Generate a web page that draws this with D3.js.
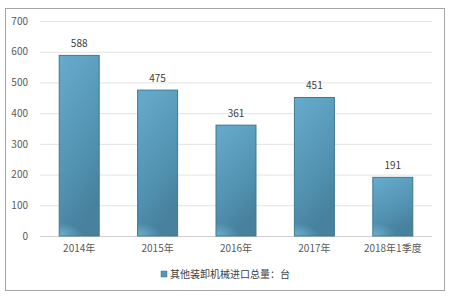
<!DOCTYPE html>
<html>
<head>
<meta charset="utf-8">
<script src="https://cdn.jsdelivr.net/npm/d3@7"></script>
<style>
  body { margin: 0; background: #fff; }
  text { font-family: "Microsoft YaHei", "Noto Sans CJK SC", "DejaVu Sans", sans-serif; }
</style>
</head>
<body>
<figure id="chart" style="margin:0"></figure>
<script>
const categories = ['2014年', '2015年', '2016年', '2017年', '2018年1季度'];
const values = [588, 475, 361, 451, 191];
const yTicks = [0, 100, 200, 300, 400, 500, 600, 700];
const seriesName = '其他装卸机械进口总量：台';

const width = 453;
const height = 297;
const plot = { left: 40, right: 432, top: 21, bottom: 236 };

const svg = d3.select('figure#chart')
  .append('svg')
  .attr('width', width)
  .attr('height', height);

// bar gradient
const defs = svg.append('defs');
const grad = defs.append('linearGradient')
  .attr('id', 'barGrad')
  .attr('x1', 0).attr('y1', 0).attr('x2', 0.35).attr('y2', 1);
grad.append('stop').attr('offset', '0%').attr('stop-color', '#67abcc');
grad.append('stop').attr('offset', '70%').attr('stop-color', '#5191b0');
grad.append('stop').attr('offset', '100%').attr('stop-color', '#47819d');
// small light patch in the bottom-left corner
const glow = defs.append('radialGradient')
  .attr('id', 'barGlow')
  .attr('cx', 0).attr('cy', 1).attr('r', 0.6);
glow.append('stop').attr('offset', '0%').attr('stop-color', '#7cc0e0').attr('stop-opacity', 0.7);
glow.append('stop').attr('offset', '100%').attr('stop-color', '#7cc0e0').attr('stop-opacity', 0);

// outer frame
svg.append('rect')
  .attr('x', 5.5).attr('y', 8.5)
  .attr('width', 439).attr('height', 282)
  .attr('fill', '#fff')
  .attr('stroke', '#a6a6a6')
  .attr('stroke-width', 1);

const xScale = d3.scaleBand()
  .domain(categories)
  .range([plot.left, plot.right])
  .paddingInner(0.49)
  .paddingOuter(0.245);

const yScale = d3.scaleLinear()
  .domain([0, 700])
  .range([plot.bottom, plot.top]);

// y axis with gridlines
svg.append('g')
  .attr('class', 'y-axis')
  .attr('transform', 'translate(' + plot.left + ',0)')
  .call(d3.axisLeft(yScale).tickValues(yTicks).tickSize(0).tickPadding(12))
  .call(g => g.select('.domain').remove())
  .call(g => g.selectAll('.tick line')
    .attr('x1', 0)
    .attr('x2', plot.right - plot.left)
    .attr('stroke', (d) => d === 0 ? '#d0d0d0' : '#e3e3e3'))
  .call(g => g.selectAll('.tick text')
    .attr('fill', '#595959')
    .style('font-size', '10px'));

// x axis labels
svg.append('g')
  .attr('class', 'x-axis')
  .attr('transform', 'translate(0,' + plot.bottom + ')')
  .call(d3.axisBottom(xScale).tickSize(0).tickPadding(9))
  .call(g => g.select('.domain').remove())
  .call(g => g.selectAll('.tick text')
    .attr('fill', '#595959')
    .style('font-size', '10px'));

// bars
const bars = svg.append('g').attr('class', 'bars');
bars.selectAll('rect.bar')
  .data(values)
  .join('rect')
  .attr('class', 'bar')
  .attr('x', (d, i) => xScale(categories[i]))
  .attr('y', d => yScale(d))
  .attr('width', xScale.bandwidth())
  .attr('height', d => plot.bottom - yScale(d))
  .attr('fill', 'url(#barGrad)')
  .attr('stroke', '#3f7892')
  .attr('stroke-width', 1);

bars.selectAll('rect.glow')
  .data(values)
  .join('rect')
  .attr('class', 'glow')
  .attr('x', (d, i) => xScale(categories[i]) + 0.5)
  .attr('y', d => Math.max(yScale(d), plot.bottom - 22) + 0.5)
  .attr('width', xScale.bandwidth() - 1)
  .attr('height', d => Math.min(plot.bottom - yScale(d), 22) - 1)
  .attr('fill', 'url(#barGlow)');

// data labels
svg.append('g')
  .selectAll('text')
  .data(values)
  .join('text')
  .text(d => d)
  .attr('x', (d, i) => xScale(categories[i]) + xScale.bandwidth() / 2)
  .attr('y', d => yScale(d) - 8)
  .attr('text-anchor', 'middle')
  .attr('fill', '#404040')
  .style('font-size', '10px');

// legend
const legend = svg.append('g').attr('transform', 'translate(161,271)');
legend.append('rect')
  .attr('x', 0).attr('y', 0)
  .attr('width', 6).attr('height', 6)
  .attr('fill', '#5597b8')
  .attr('stroke', '#3f7892')
  .attr('stroke-width', 0.5);
legend.append('text')
  .attr('x', 9).attr('y', 3)
  .attr('dy', '0.35em')
  .attr('fill', '#404040')
  .style('font-size', '10px')
  .text(seriesName);
</script>
</body>
</html>
